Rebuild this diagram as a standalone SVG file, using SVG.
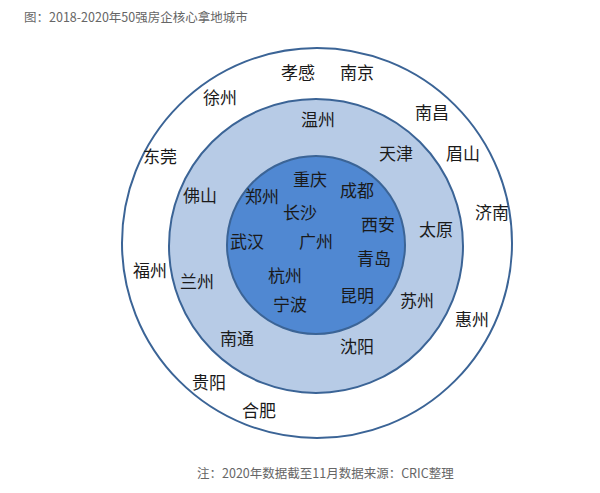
<svg xmlns="http://www.w3.org/2000/svg" width="600" height="493" viewBox="0 0 600 493">
<style>
.cap{font-family:"Noto Sans CJK SC","Microsoft YaHei",sans-serif;font-size:12.5px;fill:#666}
.c{font-family:"Noto Sans CJK SC",sans-serif;font-size:17px;fill:#1a1a1a;text-anchor:middle}
.ring{stroke:#3b6496;stroke-width:2}
</style>
<rect width="600" height="493" fill="#fff"/>
<text class="cap" x="24" y="22">图：2018-2020年50强房企核心拿地城市</text>
<g id="rings">
<circle id="outer" class="ring" cx="317" cy="243" r="195" fill="#fff"/>
<circle id="middle" class="ring" cx="316" cy="246" r="147" fill="#b7cbe6"/>
<circle id="inner" class="ring" cx="316" cy="245" r="89" fill="#5088d2"/>
</g>
<g id="cities">
<text class="c" x="298" y="79">孝感</text>
<text class="c" x="357" y="79">南京</text>
<text class="c" x="220" y="104">徐州</text>
<text class="c" x="432" y="119">南昌</text>
<text class="c" x="318" y="126">温州</text>
<text class="c" x="396" y="160">天津</text>
<text class="c" x="463" y="160">眉山</text>
<text class="c" x="160" y="163">东莞</text>
<text class="c" x="200" y="202">佛山</text>
<text class="c" x="310" y="186">重庆</text>
<text class="c" x="357" y="197">成都</text>
<text class="c" x="262" y="203">郑州</text>
<text class="c" x="300" y="219">长沙</text>
<text class="c" x="492" y="219">济南</text>
<text class="c" x="378" y="231">西安</text>
<text class="c" x="436" y="236">太原</text>
<text class="c" x="247" y="248">武汉</text>
<text class="c" x="316" y="248">广州</text>
<text class="c" x="374" y="265">青岛</text>
<text class="c" x="150" y="277">福州</text>
<text class="c" x="197" y="288">兰州</text>
<text class="c" x="285" y="282">杭州</text>
<text class="c" x="357" y="302">昆明</text>
<text class="c" x="417" y="307">苏州</text>
<text class="c" x="290" y="311">宁波</text>
<text class="c" x="472" y="326">惠州</text>
<text class="c" x="237" y="345">南通</text>
<text class="c" x="357" y="353">沈阳</text>
<text class="c" x="209" y="389">贵阳</text>
<text class="c" x="259" y="417">合肥</text>
</g>
<text class="cap" x="197" y="478">注：2020年数据截至11月数据来源：CRIC整理</text>
</svg>
